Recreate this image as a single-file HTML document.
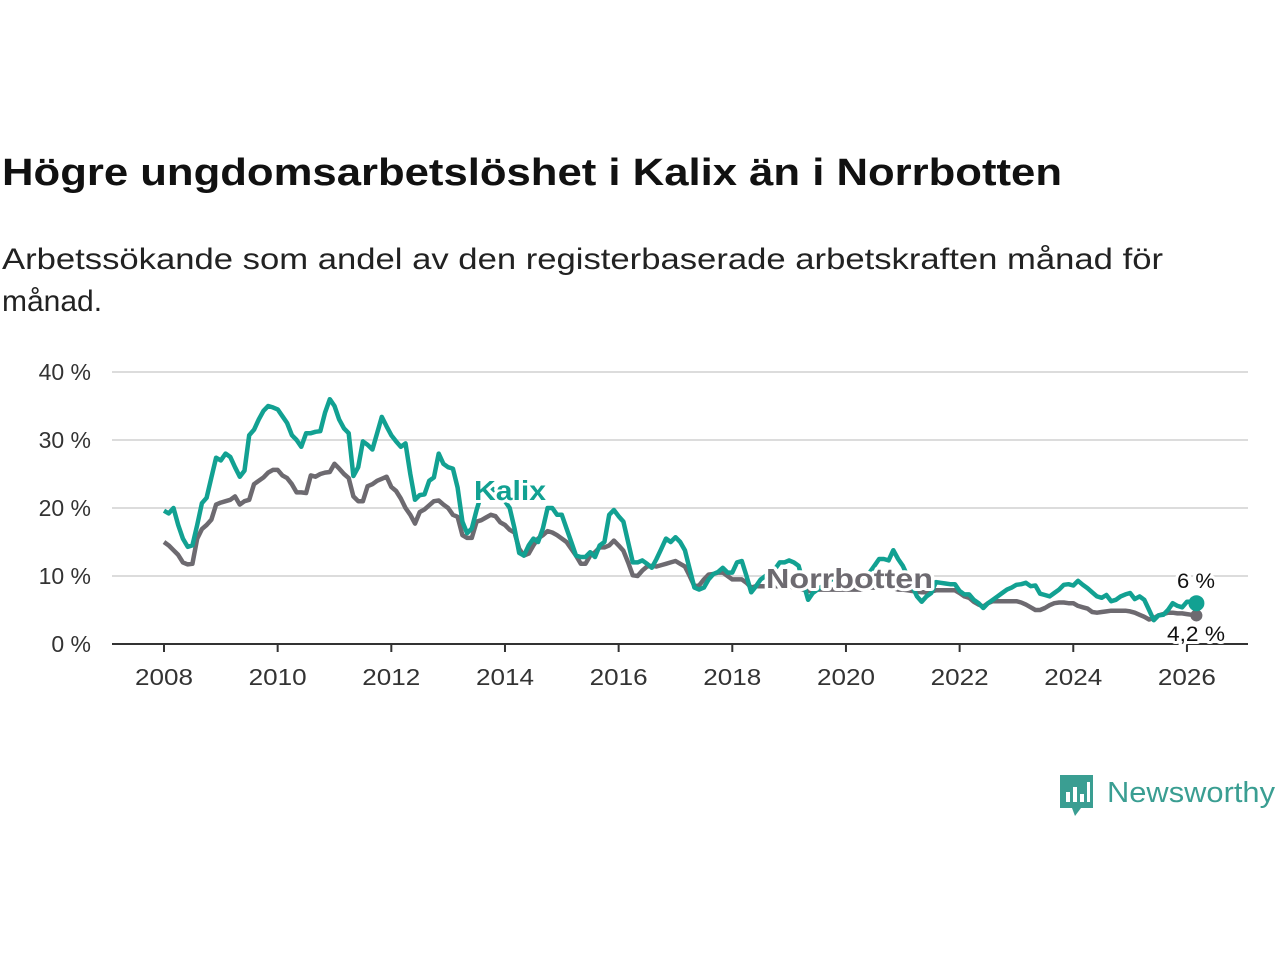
<!DOCTYPE html>
<html><head><meta charset="utf-8"><style>
body{margin:0;background:#fff;}
svg{display:block;font-family:"Liberation Sans","DejaVu Sans",sans-serif;}
.halo{paint-order:stroke;stroke:#fff;stroke-width:6px;stroke-linejoin:round;}
</style></head><body>
<svg id="chart" width="1280" height="960" viewBox="0 0 1280 960">
<text x="2" y="185" font-size="38" font-weight="bold" fill="#111" textLength="1060" lengthAdjust="spacingAndGlyphs">Högre ungdomsarbetslöshet i Kalix än i Norrbotten</text>
<text x="2" y="269" font-size="30" fill="#222" textLength="1161" lengthAdjust="spacingAndGlyphs">Arbetssökande som andel av den registerbaserade arbetskraften månad för</text>
<text x="2" y="311" font-size="30" fill="#222">månad.</text>
<g id="grid"></g>
<g id="lines"></g>
<g id="labels"></g>
<g>
<path d="M1060 775 h33 v33 h-12 l-6 8 l-3 -8 h-12 z" fill="#3a9e92"/>
<rect x="1066" y="792" width="4" height="10" fill="#fff"/><rect x="1073" y="787" width="4" height="15" fill="#fff"/><rect x="1080" y="794" width="4" height="8" fill="#fff"/><rect x="1087" y="782" width="3" height="20" fill="#fff"/>
<text x="1107" y="802" font-size="29" fill="#3a9e92" textLength="168" lengthAdjust="spacingAndGlyphs">Newsworthy</text>
</g>
</svg>
<script>
const yTicks=[0,10,20,30,40];
const xTicks=[2008,2010,2012,2014,2016,2018,2020,2022,2024,2026];
const startYear=2008;
const kalix=[19.6,19.2,20,17.5,15.5,14.3,14.5,17.5,20.7,21.5,24.5,27.4,
27,28,27.5,26,24.6,25.5,30.7,31.5,33,34.3,35,34.8,
34.5,33.5,32.5,30.7,30,29,31,31,31.2,31.3,34,36,
35,33,31.7,31,24.7,26,29.8,29.3,28.6,31,33.4,32,
30.7,29.8,29,29.5,25,21.2,21.9,22,24,24.5,28,26.5,
26,25.8,23,18,16.3,17,19.7,22,23,23,22.5,22,
21,20,17,13.4,13,14.5,15.5,15,17,20,20,19,
19,17,15,13,12.8,12.8,13.5,12.8,14.5,15,19,19.7,
18.8,18,15,12,12,12.3,11.8,11.2,12.5,14,15.5,15,
15.7,15,13.8,11,8.3,8,8.3,9.5,10.3,10.6,11.2,10.5,
10.5,12,12.2,10,7.6,8.5,9.5,10,10.5,11,12,12,
12.3,12,11.5,9,6.5,7.5,8,8.5,9,9.5,10,10.5,
10.5,10,9.5,9.5,10,10.5,11.5,12.5,12.5,12.3,13.8,12.5,
11.5,10,8.5,7,6.2,7,7.5,9.1,9,8.9,8.8,8.8,
7.8,7.3,7.3,6.5,6,5.3,6,6.5,7,7.5,8,8.3,
8.7,8.8,9,8.5,8.6,7.4,7.2,7,7.5,8,8.7,8.8,
8.6,9.3,8.7,8.2,7.6,7,6.8,7.2,6.3,6.5,7,7.3,
7.5,6.6,7,6.5,5,3.5,4.2,4.3,5,6,5.6,5.4,
6.2,6.2,6.0];
const norrbotten=[15,14.5,13.8,13.1,12,11.7,11.8,15.5,16.9,17.5,18.3,20.5,
20.8,21,21.2,21.7,20.5,21,21.2,23.5,24,24.5,25.2,25.6,
25.6,24.8,24.4,23.5,22.3,22.3,22.2,24.8,24.6,25,25.2,25.3,
26.5,25.8,25,24.4,21.7,21,21,23.2,23.5,24,24.3,24.6,
23.1,22.5,21.4,20,19,17.7,19.4,19.8,20.4,21,21.1,20.5,
20,19,18.7,16,15.6,15.6,18,18.2,18.6,19,18.8,17.9,
17.5,16.8,16.4,14,13,13.3,14.5,15.5,16,16.6,16.4,16,
15.5,15,14,13,11.8,11.8,13,13.5,14.2,14.2,14.5,15.2,
14.5,13.7,12,10.1,10,10.8,11.4,11.5,11.4,11.6,11.8,12,
12.2,11.8,11.4,10,8.5,8.6,9.5,10.2,10.3,10.5,10.5,10,
9.5,9.5,9.5,9,8.3,8.5,8.5,8.5,8.5,8.5,8.5,8.5,
8.5,8.3,8.2,8,7.8,7.8,8,8,8,8,8,8,
8,8,8,8,8.2,8.3,8.3,8.5,8.5,8.3,8.2,8,
8,7.9,7.8,7.7,7.6,7.6,7.7,7.9,7.9,7.9,7.9,7.9,
7.5,7,6.8,6.2,5.8,5.5,6,6.3,6.3,6.3,6.3,6.3,
6.3,6.1,5.8,5.4,5,5,5.3,5.7,6,6.1,6.1,6,
6,5.6,5.4,5.2,4.7,4.6,4.7,4.8,4.9,4.9,4.9,4.9,
4.8,4.6,4.3,4,3.6,3.8,4.2,4.4,4.6,4.6,4.5,4.5,
4.4,4.3,4.2];
const NS="http://www.w3.org/2000/svg";
const X0=164,PX_YEAR=56.83,Y0=644,PX_UNIT=6.8,LEFT=112,RIGHT=1248;
function xs(t){return X0+(t-startYear)*PX_YEAR;}
function ys(v){return Y0-v*PX_UNIT;}
function mk(tag,attrs,parent){const e=document.createElementNS(NS,tag);for(const k in attrs)e.setAttribute(k,attrs[k]);parent.appendChild(e);return e;}
const grid=document.getElementById('grid'),lines=document.getElementById('lines'),labels=document.getElementById('labels');
yTicks.forEach(v=>{
  const l=mk('line',{x1:LEFT,x2:RIGHT,y1:ys(v),y2:ys(v),stroke:v===0?'#333':'#dcdcdc','stroke-width':2},grid);
  
  
  const t=mk('text',{x:91,y:ys(v)+8,'text-anchor':'end','font-size':23,fill:'#333'},grid);
  t.textContent=v+' %';
  
  
});
xTicks.forEach(y=>{
  const l=mk('line',{x1:xs(y),x2:xs(y),y1:Y0,y2:Y0+8,stroke:'#333','stroke-width':2},grid);
  
  
  const t=mk('text',{x:xs(y),y:685,'text-anchor':'middle','font-size':23,fill:'#333',textLength:58,lengthAdjust:'spacingAndGlyphs'},grid);
  t.textContent=y;
  
  
});
function path(arr){return arr.map((v,i)=>(i?'L':'M')+xs(startYear+i/12).toFixed(1)+' '+ys(v).toFixed(1)).join(' ');}
const pn=mk('path',{d:path(norrbotten),fill:'none',stroke:'#6d6a70','stroke-width':4.5,'stroke-linejoin':'round'},lines);


const pk=mk('path',{d:path(kalix),fill:'none',stroke:'#12a192','stroke-width':4.5,'stroke-linejoin':'round'},lines);


const ln=norrbotten.length-1,lk=kalix.length-1;
const dn=mk('circle',{cx:xs(startYear+ln/12),cy:ys(norrbotten[ln]),r:6,fill:'#6d6a70'},lines);


const dk=mk('circle',{cx:xs(startYear+lk/12),cy:ys(kalix[lk]),r:8,fill:'#12a192'},lines);


function lab(txt,x,y,size,fill,bold,name,len){
  const a={x:x,y:y,'font-size':size,fill:fill,'font-weight':bold?'bold':'normal',class:'halo'};
  if(len){a.textLength=len;a.lengthAdjust='spacingAndGlyphs';}
  const t=mk('text',a,labels);
  t.textContent=txt;
  
  
}
lab('Kalix',474,500,28,'#12a192',true,'kalix-series-label',72);
lab('Norrbotten',766,588,28,'#6d6a70',true,'norrbotten-series-label',167);
lab(String(kalix[lk]).replace('.',',')+' %',1177,588,21,'#111',false,'kalix-end-value',38);
lab(String(norrbotten[ln]).replace('.',',')+' %',1167,641,21,'#111',false,'norrbotten-end-value',58);
</script>
</body></html>
